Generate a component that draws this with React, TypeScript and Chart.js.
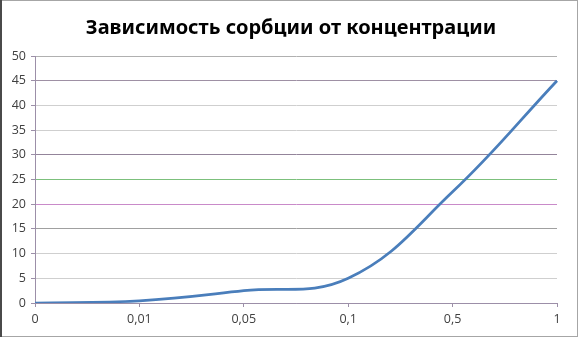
import React, { useEffect, useRef } from "react";
import { Chart, registerables } from "chart.js";

Chart.register(...registerables);

const categories = ["0", "0,01", "0,05", "0,1", "0,5", "1"];
const sorption = [0, 0.45, 2.5, 5, 22.5, 45];
const yTicks = [0, 5, 10, 15, 20, 25, 30, 35, 40, 45, 50];
const gridColors = [
  "#9c8fa8", "#cfcfcf", "#cfcfcf", "#a0a0a0", "#c98ac9", "#7cc07c",
  "#93849a", "#cfcfcf", "#cfcfcf", "#9e90a4", "#b0b0b0",
];
const titleText = "Зависимость сорбции от концентрации";

const framePlugin = {
  id: "frame",
  beforeDraw(chart: any) {
    const { ctx, width, height } = chart;
    ctx.save();
    ctx.fillStyle = "#ffffff";
    ctx.fillRect(0, 0, width, height);
    ctx.restore();
  },
  afterDraw(chart: any) {
    const { ctx, width, height } = chart;
    ctx.save();
    ctx.strokeStyle = "#a6a6a6";
    ctx.lineWidth = 1;
    ctx.strokeRect(0.5, 0.5, width - 1, height - 1);
    ctx.strokeStyle = "#4a4a4a";
    ctx.lineWidth = 2;
    ctx.beginPath();
    ctx.moveTo(1, 0);
    ctx.lineTo(1, height);
    ctx.stroke();
    ctx.fillStyle = "#000000";
    ctx.font = "bold 20px 'Noto Sans', 'Open Sans', sans-serif";
    ctx.textAlign = "center";
    ctx.textBaseline = "middle";
    ctx.fillText(titleText, 291, 28);
    ctx.restore();
  },
};

export default function App() {
  const ref = useRef<HTMLCanvasElement | null>(null);
  useEffect(() => {
    document.body.style.margin = "0";
    if (!ref.current) return;
    const chart = new Chart(ref.current, {
      type: "line",
      data: {
        labels: categories,
        datasets: [
          {
            data: sorption,
            borderColor: "#4a7ebb",
            borderWidth: 2.75,
            pointRadius: 0,
            tension: 0.4,
            fill: false,
          },
        ],
      },
      options: {
        animation: false,
        responsive: false,
        maintainAspectRatio: false,
        layout: { padding: { top: 56, left: 0, right: 21, bottom: 0 } },
        plugins: {
          legend: { display: false },
          title: { display: false },
          tooltip: { enabled: false },
        },
        scales: {
          x: {
            type: "category",
            offset: false,
            grid: {
              display: true,
              drawOnChartArea: false,
              drawTicks: true,
              tickLength: 4,
              color: "#9c8fa8",
            },
            border: { display: true, color: "#9c8fa8" },
            ticks: {
              color: "#404040",
              font: { family: "'Open Sans', sans-serif", size: 12.5 },
              padding: 5,
              maxRotation: 0,
              autoSkip: false,
            },
            afterFit(scale: any) {
              scale.height = 34;
            },
          },
          y: {
            min: 0,
            max: 50,
            afterBuildTicks(scale: any) {
              scale.ticks = yTicks.map((v) => ({ value: v }));
            },
            grid: {
              color: (c: any) => gridColors[c.index] ?? "#cfcfcf",
              tickLength: 4,
              tickColor: "#9c8fa8",
              lineWidth: 1,
            },
            border: { display: true, color: "#9c8fa8" },
            ticks: {
              color: "#404040",
              font: { family: "'Open Sans', sans-serif", size: 12.5 },
              padding: 5,
            },
            afterFit(scale: any) {
              scale.width = 35;
            },
          },
        },
      },
      plugins: [framePlugin],
    });
    return () => chart.destroy();
  }, []);
  return (
    <div style={{ position: "absolute", left: 0, top: 0, width: 578, height: 337 }}>
      <canvas ref={ref} width={578} height={337} style={{ width: 578, height: 337 }} />
    </div>
  );
}
